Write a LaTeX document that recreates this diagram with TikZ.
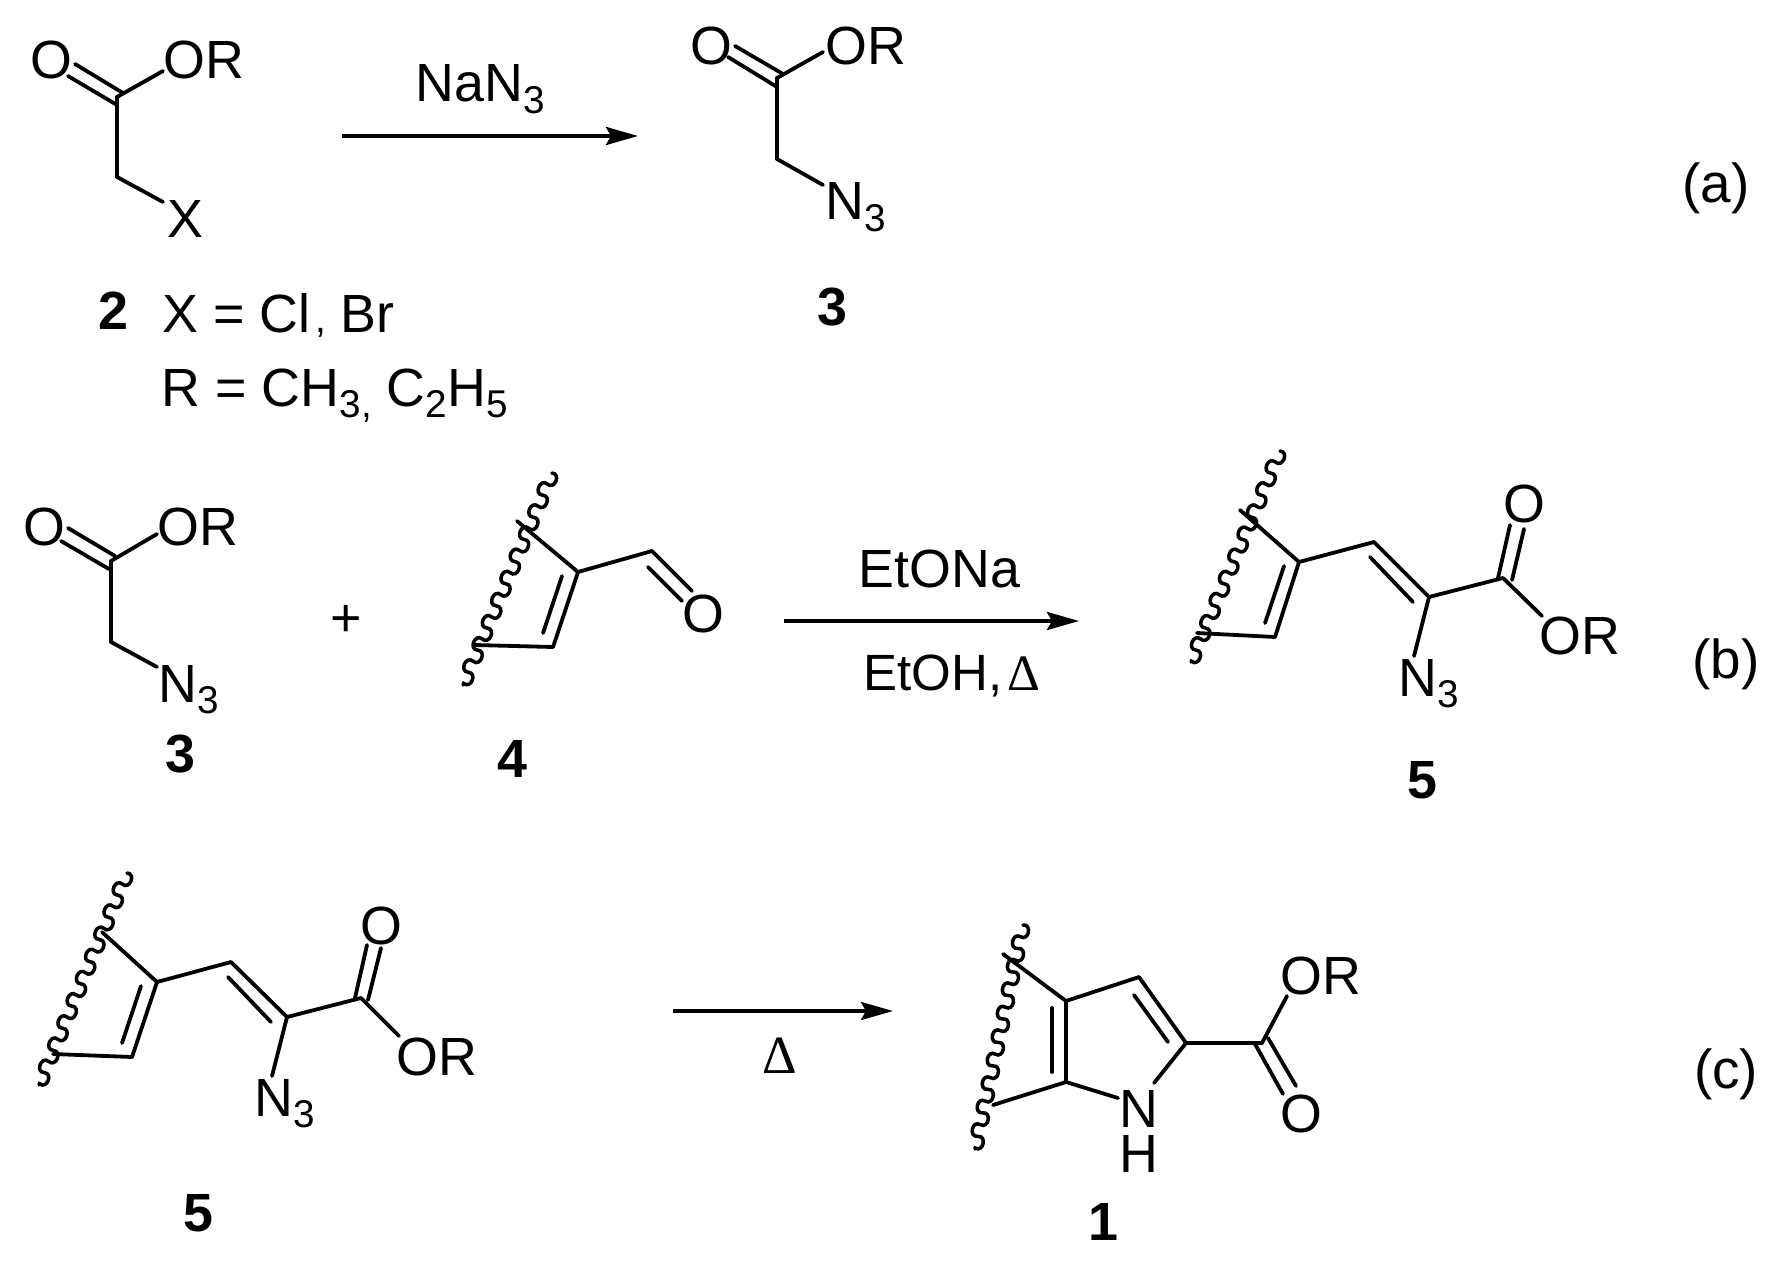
\documentclass[tikz,border=0pt]{standalone}
\usepackage{fontspec}
\setmainfont{Liberation Sans}
\newfontfamily\symbfont{Liberation Serif}
\usetikzlibrary{arrows.meta,decorations}
\newcommand{\subs}[1]{\raisebox{-3.4pt}{\fontsize{11}{11}\selectfont #1}}
\newcommand{\comma}{\hspace{0.08em}{\fontsize{11}{11}\selectfont ,}}
%% wavy cut, half circles one after the other
\pgfdeclaredecoration{curlWave}{curlUp}{
  \state{curlUp}[width=0.12cm,next state=curlDown]{
    \pgfpathcurveto{\pgfpoint{-0.03cm}{0.09cm}}{\pgfpoint{0.15cm}{0.09cm}}{\pgfpoint{0.12cm}{0cm}}
  }
  \state{curlDown}[width=0.12cm,next state=curlUp]{
    \pgfpathcurveto{\pgfpoint{-0.03cm}{-0.09cm}}{\pgfpoint{0.15cm}{-0.09cm}}{\pgfpoint{0.12cm}{0cm}}
  }
  \state{final}{\pgfpathlineto{\pgfpointdecoratedpathlast}}
}
\begin{document}
\begin{tikzpicture}
[x=0.01cm,y=-0.01cm,
  lineDecorate/.style={-,line width=1.08pt,line cap=round},%
  waveDecorate/.style={-,line width=1pt,line cap=round,decorate,decoration={curlWave}},
  arrowDecorate/.style={-{Stealth[length=0.32cm,width=0.18cm,inset=0.05cm]},line width=1.1pt},
  atomDecorate/.style={anchor=base west,inner sep=0pt,font=\fontsize{15.3}{15.3}\selectfont},
  textDecorate/.style={anchor=base,inner sep=0pt,font=\fontsize{15.3}{15.3}\selectfont},
  labelDecorate/.style={anchor=base,inner sep=0pt,font=\fontsize{15.3}{15.3}\selectfont\bfseries}]
\useasboundingbox (0,0) rectangle (1777,1261);
%% ends of the bonds and arrows
\foreach \nodename/\x/\y in {
  twoC/117/97, twoCH/117/177, twoOa/75/64, twoOb/123/93, twoOc/68/76, twoOd/117/105,
  twoOR/163/71, twoX/163/202,
  triC/777/78, triCH/777/159, triOa/735/46, triOb/783/74, triOc/728/57, triOd/777/87,
  triOR/823/52, triN/823/185,
  tribC/111/561, tribCH/111/642, tribOa/68/528, tribOb/115/556, tribOc/61/541, tribOd/109/569,
  tribOR/157/534, tribN/157/667,
  fourWa/552/473, fourWb/463/685, fourA/517/521, fourB/578/572, fourD/553/647, fourE/475/645,
  fourIa/562/576, fourIb/543/633, fourCH/652/551, fourOa/692/591, fourOb/648/567, fourOc/682/601,
  fivWa/1280/451, fivWb/1191/662, fivA/1240/510, fivB/1299/562, fivD/1275/637, fivE/1197/633,
  fivIa/1284/566, fivIb/1265/623, fivCH/1374/542, fivCN/1429/597, fivIc/1370/557, fivId/1413/602,
  fivC/1503/578, fivOa/1510/525, fivOb/1498/578, fivOc/1524/529, fivOd/1512/580,
  fivOR/1542/616, fivN/1414/656,
  fvcWa/127/873, fvcWb/39/1085, fvcA/102/932, fvcB/157/982, fvcD/132/1057, fvcE/53/1054,
  fvcIa/141/986, fvcIb/122/1043, fvcCH/231/962, fvcCN/287/1017, fvcIc/228/977, fvcId/271/1022,
  fvcC/361/998, fvcOa/367/945, fvcOb/355/998, fvcOc/381/948, fvcOd/368/1000,
  fvcOR/399/1036, fvcN/272/1076,
  oneWa/1023/925, oneWb/975/1149, oneA/1003/954, oneB/1066/1001, oneD/1066/1082, oneE/993/1105,
  oneIa/1052/1008, oneIb/1052/1072, oneCH/1139/977, oneCN/1186/1043, oneIc/1134/995, oneId/1168/1042,
  oneNa/1154/1083, oneNb/1118/1098, oneC/1262/1043, oneOR/1287/996,
  oneOa/1268/1038, oneOb/1296/1086, oneOc/1255/1044, oneOd/1283/1094,
  arrAa/342/136, arrAb/638/136, arrBa/784/621, arrBb/1079/621, arrCa/673/1011, arrCb/893/1011}
{
  \coordinate (\nodename) at (\x,\y);
}
%% atoms
\foreach \nodename/\x/\y/\txt in {
  twoO/30/79/O, twoR/162.5/79/OR, twoXl/166.5/238/X,
  triO/689.5/65/O, triR/824.5/65/OR, triNl/825/220/N\subs{3},
  tribO/22.5/545/O, tribR/156.5/545/OR, tribNl/158/702/N\subs{3},
  fourO/681.5/632/O,
  fivO/1503/522/O, fivR/1538.5/654/OR, fivNl/1398/696/N\subs{3},
  fvcO/359.5/944/O, fvcR/395.5/1075/OR, fvcNl/254/1116/N\subs{3},
  oneR/1279.5/994/OR, oneO/1279.5/1132/O}
{
  \node (\nodename) at (\x,\y) [atomDecorate] {\txt};
}
\node (oneN) at (1139,1127) [textDecorate] {N};
\node (oneH) at (1139,1172) [textDecorate] {H};
%% compound numbers
\foreach \nodename/\x/\y/\txt in {
  numTwo/113/330/2, numTri/832/325/3, numTrib/180/772/3, numFour/512/777/4,
  numFiv/1422/798/5, numFvc/198/1231/5, numOne/1103/1240/1}
{
  \node (\nodename) at (\x,\y) [labelDecorate] {\txt};
}
%% other texts
\node (defX) at (162,332) [atomDecorate] {X = Cl\comma{} Br};
\node (defR) at (161,406) [atomDecorate] {R = CH\subs{3}\subs{,} C\subs{2}H\subs{5}};
\node (reaA) at (415,102) [atomDecorate] {NaN\subs{3}};
\node (reaB) at (858,587) [atomDecorate] {EtONa};
\node (reaBb) at (863,690) [atomDecorate,font=\fontsize{14.5}{14.5}\selectfont] {EtOH,\hspace{0.1em}{\symbfont Δ}};
\node (reaC) at (780,1073) [textDecorate] {\symbfont Δ};
\node (plusB) at (346,636) [textDecorate] {+};
\node (tagA) at (1716,203) [textDecorate,font=\fontsize{15.6}{15.6}\selectfont] {(a)};
\node (tagB) at (1726,678) [textDecorate,font=\fontsize{15.6}{15.6}\selectfont] {(b)};
\node (tagC) at (1726,1088) [textDecorate,font=\fontsize{15.6}{15.6}\selectfont] {(c)};
%% bonds
\path
\foreach \startnode/\endnode in {
  twoC/twoCH, twoC/twoOR, twoCH/twoX, twoOa/twoOb, twoOc/twoOd,
  triC/triCH, triC/triOR, triCH/triN, triOa/triOb, triOc/triOd,
  tribC/tribCH, tribC/tribOR, tribCH/tribN, tribOa/tribOb, tribOc/tribOd,
  fourA/fourB, fourB/fourD, fourD/fourE, fourIa/fourIb, fourB/fourCH, fourCH/fourOa, fourOb/fourOc,
  fivA/fivB, fivB/fivD, fivD/fivE, fivIa/fivIb, fivB/fivCH, fivCH/fivCN, fivIc/fivId,
  fivCN/fivC, fivCN/fivN, fivC/fivOR, fivOa/fivOb, fivOc/fivOd,
  fvcA/fvcB, fvcB/fvcD, fvcD/fvcE, fvcIa/fvcIb, fvcB/fvcCH, fvcCH/fvcCN, fvcIc/fvcId,
  fvcCN/fvcC, fvcCN/fvcN, fvcC/fvcOR, fvcOa/fvcOb, fvcOc/fvcOd,
  oneA/oneB, oneB/oneD, oneD/oneE, oneIa/oneIb, oneB/oneCH, oneCH/oneCN, oneIc/oneId,
  oneCN/oneNa, oneD/oneNb, oneCN/oneC, oneC/oneOR, oneOa/oneOb, oneOc/oneOd}
{
  (\startnode) edge[lineDecorate] (\endnode)
};
%% wavy cuts
\path
\foreach \startnode/\endnode in {fourWa/fourWb, fivWa/fivWb, fvcWa/fvcWb, oneWa/oneWb}
{
  (\startnode) edge[waveDecorate] (\endnode)
};
%% arrows
\path
\foreach \startnode/\endnode in {arrAa/arrAb, arrBa/arrBb, arrCa/arrCb}
{
  (\startnode) edge[arrowDecorate] (\endnode)
};
\end{tikzpicture}
\end{document}
